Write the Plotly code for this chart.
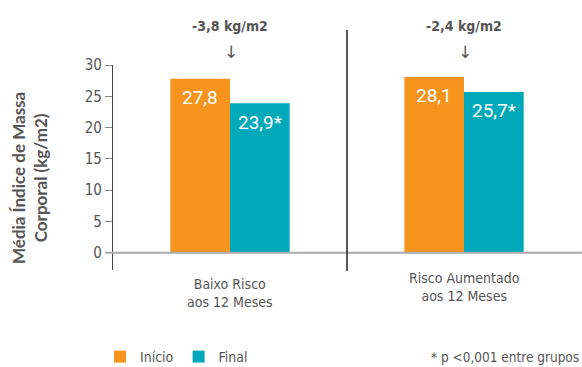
import plotly.graph_objects as go

groups = ["Baixo Risco<br>aos 12 Meses", "Risco Aumentado<br>aos 12 Meses"]
series_names = ["Início", "Final"]
inicio = [27.8, 28.1]
final = [23.9, 25.7]
final_marks = ["*", "*"]
changes = ["-3,8 kg/m2", "-2,4 kg/m2"]
y_ticks = [0, 5, 10, 15, 20, 25, 30]
colors = ["#F7941E", "#00A8BA"]

xpos = list(range(len(groups)))
W, H = 582, 367
ml, mr, mt, mb = 113, 1, 65, 97
ph = H - mt - mb
pw = W - ml - mr

def py(pix):
    return (H - mb - pix) / ph

def px(pix):
    return (pix - ml) / pw

cond = "DejaVu Sans Condensed"
gray = "#555555"
bw = 0.255

fig = go.Figure()
fig.add_trace(go.Bar(x=xpos, y=inicio, name=series_names[0], marker_color=colors[0],
                     width=bw, offset=-bw, marker_line_width=0))
fig.add_trace(go.Bar(x=xpos, y=final, name=series_names[1], marker_color=colors[1],
                     width=bw, offset=0, marker_line_width=0))

def A(**kw):
    kw.setdefault("showarrow", False)
    kw.setdefault("xanchor", "center")
    kw.setdefault("yanchor", "middle")
    return kw

ann = []
for i, xv in enumerate(xpos):
    ann.append(A(x=xv - bw / 2, y=inicio[i], xref="x", yref="y", yshift=-19,
                 text=f"{inicio[i]:.1f}".replace(".", ","),
                 font=dict(family="Roboto", size=19, color="white")))
    ann.append(A(x=xv + bw / 2, y=final[i], xref="x", yref="y", yshift=-19,
                 text=f"{final[i]:.1f}".replace(".", ",") + final_marks[i],
                 font=dict(family="Roboto", size=19, color="white")))
    ann.append(A(x=xv, y=py(26), xref="x", yref="paper", text=f"<b>{changes[i]}</b>",
                 font=dict(family=cond, size=14, color=gray)))
    ann.append(A(x=xv + 0.005, y=py(52), xref="x", yref="paper", text="↓",
                 font=dict(family="DejaVu Sans", size=17, color=gray)))

ann.append(A(x=xpos[0], y=py(292.5), xref="x", yref="paper", text=groups[0],
             font=dict(family=cond, size=14, color=gray)))
ann.append(A(x=xpos[1], y=py(286.5), xref="x", yref="paper", text=groups[1],
             font=dict(family=cond, size=14, color=gray)))

ann.append(A(x=px(29), y=py(178), xref="paper", yref="paper",
             text="<b>Média Índice de Massa<br>Corporal (kg/m2)</b>", textangle=-90,
             font=dict(family="Lato", size=17, color=gray)))

ann.append(A(x=1.0, y=py(357), xref="paper", yref="paper", xanchor="right",
             text="* p <0,001 entre grupos",
             font=dict(family=cond, size=13.5, color=gray)))

shapes = [
    dict(type="line", xref="paper", yref="y", x0=px(106), x1=1.002, y0=0, y1=0,
         line=dict(color="#AAAAAA", width=2), layer="above"),
    dict(type="line", xref="x", yref="paper", x0=0.5, x1=0.5, y0=py(271), y1=py(30),
         line=dict(color="#222222", width=1.5)),
]

fig.update_layout(
    width=W, height=H,
    margin=dict(l=ml, r=mr, t=mt, b=mb, autoexpand=False),
    plot_bgcolor="white", paper_bgcolor="white",
    barmode="group",
    showlegend=True,
    legend=dict(orientation="h", x=px(100), xanchor="left", y=py(357), yanchor="middle",
                font=dict(family=cond, size=14, color=gray), itemwidth=30,
                bgcolor="rgba(0,0,0,0)", traceorder="normal"),
    annotations=ann,
    shapes=shapes,
    xaxis=dict(range=[-0.5, 1.5], visible=False, fixedrange=True),
    yaxis=dict(range=[-(270 - 252.7) / ((252.7 - 65) / 30), 30], tickvals=y_ticks,
               showline=True, linecolor="#444444", linewidth=1.2,
               ticks="outside", ticklen=7, tickcolor="#888888", tickwidth=1.2,
               showgrid=False, zeroline=False,
               tickfont=dict(family=cond, size=15, color=gray)),
)

fig.write_html("out.html")
